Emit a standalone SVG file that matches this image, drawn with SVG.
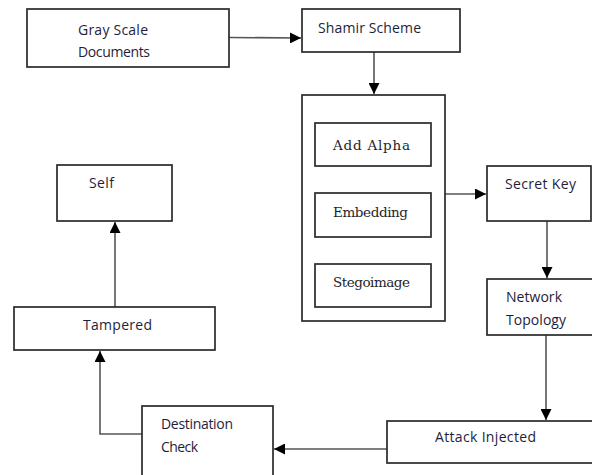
<svg xmlns="http://www.w3.org/2000/svg" width="592" height="475" viewBox="0 0 592 475">
<style>
.box{fill:#fff;stroke:#2a2a2a;stroke-width:1.7}
.t{font-family:"Open Sans","Liberation Sans",sans-serif;font-size:14px;fill:#1e1e3a}
.s{font-family:"DejaVu Serif","Liberation Serif",serif;font-size:13.5px;fill:#1e1e2a}
.c{fill:none;stroke:#555;stroke-width:1.6}
</style>
<defs>
<marker id="ah" viewBox="0 0 10 10" refX="10" refY="5" markerWidth="11" markerHeight="11" markerUnits="userSpaceOnUse" orient="auto">
<path d="M0,0 L10,5 L0,10 Z" fill="#000"/>
</marker>
</defs>
<rect width="592" height="475" fill="#fff"/>
<g id="connectors">
<path class="c" d="M229,37.5 L301,38" marker-end="url(#ah)"/>
<path class="c" d="M374,52 L374,94" marker-end="url(#ah)"/>
<path class="c" d="M445,194 L486,194" marker-end="url(#ah)"/>
<path class="c" d="M547,221 L547,278" marker-end="url(#ah)"/>
<path class="c" d="M546,335 L546,420" marker-end="url(#ah)"/>
<path class="c" d="M387,449 L274,449" marker-end="url(#ah)"/>
<path class="c" d="M142,434 L100,434 L100,351" marker-end="url(#ah)"/>
<path class="c" d="M115,307 L115,222" marker-end="url(#ah)"/>
</g>
<g id="gray-scale">
<rect class="box" x="27" y="9" width="202" height="58"/>
<text class="t" x="78" y="35" textLength="70">Gray Scale</text>
<text class="t" x="78" y="57" textLength="72">Documents</text>
</g>
<g id="shamir">
<rect class="box" x="302" y="9" width="158" height="43"/>
<text class="t" x="318" y="33" textLength="103">Shamir Scheme</text>
</g>
<g id="process">
<rect class="box" x="302" y="95" width="143" height="226"/>
</g>
<g id="add-alpha">
<rect class="box" x="315" y="123" width="116" height="43"/>
<text class="s" x="333" y="150" textLength="77">Add Alpha</text>
</g>
<g id="embedding">
<rect class="box" x="315" y="193" width="116" height="44"/>
<text class="s" x="333" y="217" textLength="75">Embedding</text>
</g>
<g id="stegoimage">
<rect class="box" x="315" y="264" width="116" height="43"/>
<text class="s" x="333" y="287" textLength="77">Stegoimage</text>
</g>
<g id="secret-key">
<rect class="box" x="487" y="166" width="104" height="55"/>
<text class="t" x="505" y="189" textLength="71">Secret Key</text>
</g>
<g id="network">
<rect class="box" x="487" y="279" width="110" height="56"/>
<text class="t" x="506" y="302" textLength="56">Network</text>
<text class="t" x="506" y="325" textLength="60">Topology</text>
</g>
<g id="attack">
<rect class="box" x="387" y="421" width="215" height="42"/>
<text class="t" x="435" y="442" textLength="101">Attack  Injected</text>
</g>
<g id="destination">
<rect class="box" x="142" y="406" width="131" height="80"/>
<text class="t" x="161" y="429" textLength="72">Destination</text>
<text class="t" x="161" y="452" textLength="37">Check</text>
</g>
<g id="tampered">
<rect class="box" x="14" y="307" width="201" height="43"/>
<text class="t" x="83" y="330" textLength="69">Tampered</text>
</g>
<g id="self">
<rect class="box" x="57" y="165" width="115" height="56"/>
<text class="t" x="89" y="188" textLength="25">Self</text>
</g>
</svg>
